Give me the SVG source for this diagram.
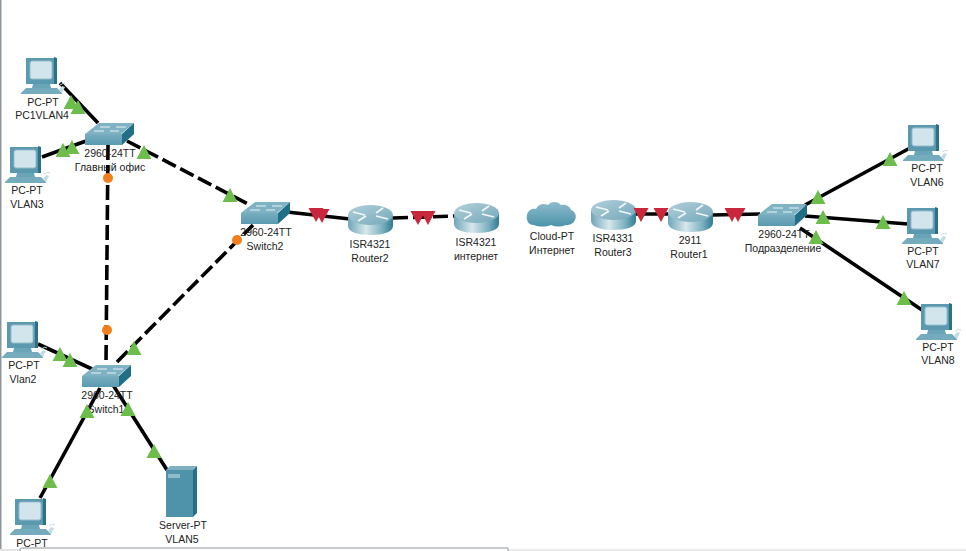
<svg xmlns="http://www.w3.org/2000/svg" width="966" height="551" viewBox="0 0 966 551">
<style>
text{font-family:"Liberation Sans",Arial,sans-serif;font-size:10.5px;fill:#222;text-anchor:middle}
.l{stroke:#000;stroke-width:3.6;fill:none}
.d{stroke-dasharray:15 5}
.g{fill:#6cbd4c}
.r{fill:#c9273c}
.o{fill:#f27f1b}
</style>
<defs>
<linearGradient id="rg" x1="0" x2="1" y1="0" y2="0"><stop offset="0" stop-color="#6fa6b8"/><stop offset=".4" stop-color="#d6e8ec"/><stop offset=".75" stop-color="#7fb3c2"/><stop offset="1" stop-color="#2f7d94"/></linearGradient>
<linearGradient id="rt" x1="0" x2="1" y1="0" y2="1"><stop offset="0" stop-color="#b3d0da"/><stop offset="1" stop-color="#74a8ba"/></linearGradient>
<linearGradient id="cl" x1="0" x2="0" y1="0" y2="1"><stop offset="0" stop-color="#8fbccb"/><stop offset="1" stop-color="#4b93aa"/></linearGradient>
<linearGradient id="sw" x1="0" x2="0" y1="0" y2="1"><stop offset="0" stop-color="#78adbf"/><stop offset="1" stop-color="#5a9ab0"/></linearGradient>
<g id="pc">
<path d="M5 1H36V27H5Z" fill="#5b99af"/><path d="M33 0L36 1V27H33Z" fill="#2d7189"/>
<rect x="9" y="4" width="22" height="18" rx="2" fill="#d2e5ec" stroke="#93bccb"/>
<path d="M12 27H29L30 31H11Z" fill="#6aa4b8"/>
<path d="M5 31H36L41 36V37H0V36Z" fill="#74abbd"/>
<path d="M38 33L41 29L44 30L41 36Z" fill="#c3dbe3"/>
<path d="M39 28q4-3 6-1" stroke="#c5dae1" fill="none"/>
</g>
<g id="switch">
<path d="M0 12L14 1H49L36 12Z" fill="#7fb2c3"/>
<path d="M0 12H37V23H0Z" fill="url(#sw)"/>
<path d="M37 12L49 1V12L37 23Z" fill="#216f87"/>
<path d="M15 5H25M31 5H41M9 9H19M25 9H34" stroke="#e8f2f5" stroke-width="1"/>
</g>
<g id="router">
<path d="M0 10V21C0 27 10 30 22.500 30S45 27 45 21V10Z" fill="url(#rg)"/>
<ellipse cx="22.500" cy="10" rx="22.500" ry="10" fill="url(#rt)"/>
<path d="M5 7L17 10M28 8L35 3M28 11L40 14M10 16L18 11" stroke="#eef6f8" stroke-width="1.800" fill="none"/>
</g>
</defs>
<rect width="966" height="551" fill="#fff"/>
<rect width="1.500" height="551" fill="#8e969c"/>
<rect x="0" y="549" width="20" height="2" fill="#e4e4e4"/>
<rect x="508" y="549" width="458" height="2" fill="#ececec"/>
<path d="M20 551V549.500Q20 548 22 548H508V551" fill="#fff" stroke="#8e969c"/>

<g id="connectors">
<path class="l" d="M60 83L98 123"/>
<path class="l" d="M42 157L86 141"/>
<path class="l d" d="M127 141L250 205"/>
<path class="l d" d="M108 145L106 362"/>
<path class="l d" d="M117 362L253 225"/>
<path class="l" d="M287 212L350 219"/>
<path class="l d" d="M393 218L455 216"/>
<path class="l" d="M635 214L672 214"/>
<path class="l" d="M712 215L760 214"/>
<path class="l" d="M805 205L910 148"/>
<path class="l" d="M805 216L908 224"/>
<path class="l" d="M800 228L922 310"/>
<path class="l" d="M38 344L92 369"/>
<path class="l" d="M100 388L40 498"/>
<path class="l" d="M113 385L167 470"/>
</g>

<g id="pc-vlan4"><use href="#pc" x="21" y="57"/><text x="43" y="106">PC-PT</text><text x="42" y="119">PC1VLAN4</text></g>
<g id="pc-vlan3"><use href="#pc" x="5" y="146"/><text x="27" y="194">PC-PT</text><text x="27" y="208">VLAN3</text></g>
<g id="switch-main"><use href="#switch" x="85" y="122"/><text x="110" y="157">2960-24TT</text><text x="110" y="171">Главный офис</text></g>
<g id="switch2"><use href="#switch" x="241" y="201"/><text x="266" y="236">2960-24TT</text><text x="265" y="250">Switch2</text></g>
<g id="pc-vlan2"><use href="#pc" x="2" y="321"/><text x="24" y="369">PC-PT</text><text x="23" y="383">Vlan2</text></g>
<g id="switch1"><use href="#switch" x="82" y="364"/><text x="107" y="399">2960-24TT</text><text x="106" y="413">Switch1</text></g>
<g id="pc-bottom"><use href="#pc" x="10" y="498"/><text x="32" y="547">PC-PT</text></g>
<g id="server"><path d="M166 470H193V517H166Z" fill="#4f93ab"/><path d="M166 470L170 466H197L193 470Z" fill="#7fb0c1"/><path d="M193 470L197 466V513L193 517Z" fill="#276f87"/><rect x="168" y="474" width="12" height="4" fill="#8fbccb"/><text x="183" y="529">Server-PT</text><text x="182" y="543">VLAN5</text></g>
<g id="router2"><use href="#router" x="348" y="205"/><text x="370" y="248">ISR4321</text><text x="370" y="262">Router2</text></g>
<g id="router-internet"><use href="#router" x="454" y="203"/><text x="476" y="246">ISR4321</text><text x="476" y="260">интернет</text></g>
<g id="cloud"><path d="M534 225C528 225 526 220 527 215C528 210 532 208 536 209C538 204 544 203 548 205C551 201 558 201 561 205C565 204 570 206 571 210C575 211 577 216 575 220C573 224 570 225 566 225C561 227 556 227 551 225C546 227 539 227 534 225Z" fill="url(#cl)"/><text x="552" y="240">Cloud-PT</text><text x="552" y="254">Интернет</text></g>
<g id="router3"><use href="#router" x="591" y="200"/><text x="613" y="242">ISR4331</text><text x="613" y="256">Router3</text></g>
<g id="router1"><use href="#router" x="668" y="202"/><text x="690" y="244">2911</text><text x="689" y="258">Router1</text></g>
<g id="switch-branch"><use href="#switch" x="758" y="203"/><text x="784" y="238">2960-24TT</text><text x="783" y="252">Подразделение</text></g>
<g id="pc-vlan6"><use href="#pc" x="903" y="124"/><text x="927" y="172">PC-PT</text><text x="927" y="186">VLAN6</text></g>
<g id="pc-vlan7"><use href="#pc" x="902" y="207"/><text x="923" y="255">PC-PT</text><text x="923" y="268">VLAN7</text></g>
<g id="pc-vlan8"><use href="#pc" x="916" y="303"/><text x="938" y="351">PC-PT</text><text x="938" y="364">VLAN8</text></g>

<g id="link-lights">
<g class="g">
<path d="M71 95l7.500 14h-15z"/>
<path d="M78 100l7.500 14h-15z"/>
<path d="M63 143l7.500 14h-15z"/>
<path d="M72 140l7.500 14h-15z"/>
<path d="M144 145l7.500 14h-15z"/>
<path d="M230 188l7.500 14h-15z"/>
<path d="M60 347l7.500 14h-15z"/>
<path d="M70 353l7.500 14h-15z"/>
<path d="M134 341l7.500 14h-15z"/>
<path d="M87 404l7.500 14h-15z"/>
<path d="M50 474l7.500 14h-15z"/>
<path d="M128 402l7.500 14h-15z"/>
<path d="M154 444l7.500 14h-15z"/>
<path d="M818 190l7.500 14h-15z"/>
<path d="M890 152l7.500 14h-15z"/>
<path d="M823 210l7.500 14h-15z"/>
<path d="M883 215l7.500 14h-15z"/>
<path d="M816 230l7.500 14h-15z"/>
<path d="M904 291l7.500 14h-15z"/>
</g>
<g class="r">
<path d="M316 222l-7.500-14h15z"/>
<path d="M322 223l-7.500-14h15z"/>
<path d="M418 225l-7.500-14h15z"/>
<path d="M428 225l-7.500-14h15z"/>
<path d="M641 222l-7.500-14h15z"/>
<path d="M661 222l-7.500-14h15z"/>
<path d="M732 222l-7.500-14h15z"/>
<path d="M738 222l-7.500-14h15z"/>
</g>
<g class="o">
<circle cx="108" cy="178" r="5"/>
<circle cx="107" cy="330" r="5"/>
<circle cx="237" cy="240" r="5"/>
</g>
</g>
</svg>
